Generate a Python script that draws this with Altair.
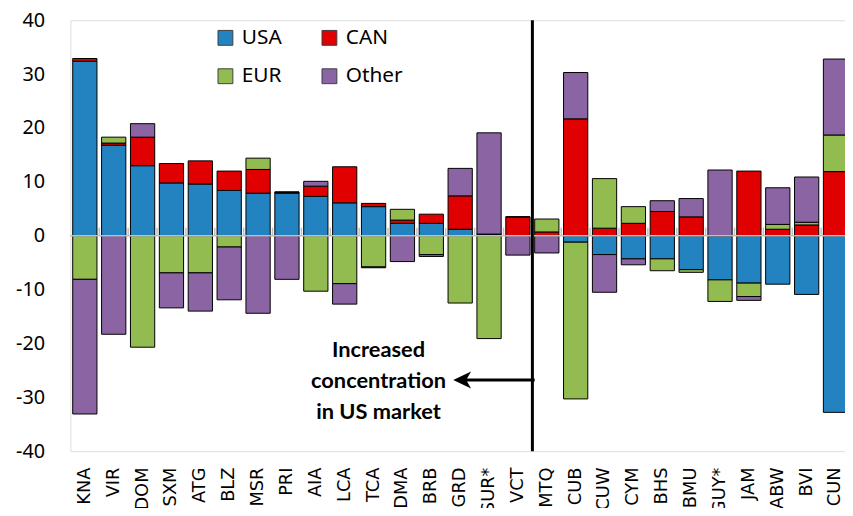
import altair as alt
import pandas as pd

cats = ["KNA", "VIR", "DOM", "SXM", "ATG", "BLZ", "MSR", "PRI", "AIA", "LCA", "TCA",
        "DMA", "BRB", "GRD", "SUR*", "VCT", "MTQ", "CUB", "CUW", "CYM", "BHS", "BMU",
        "GUY*", "JAM", "ABW", "BVI", "CUN"]
usa = [32.4, 16.8, 13.0, 9.8, 9.6, 8.4, 7.9, 7.9, 7.3, 6.1, 5.4,
       2.3, 2.3, 1.2, 0.3, 0.0, 0.0, -1.2, -3.5, -4.3, -4.3, -6.3,
       -8.2, -8.8, -9.0, -10.9, -32.8]
can = [0.5, 0.4, 5.3, 3.6, 4.3, 3.6, 4.4, 0.2, 1.9, 6.7, 0.6,
       0.6, 1.7, 6.2, 0.0, 3.5, 0.7, 21.7, 1.4, 2.3, 4.5, 3.5,
       0.0, 12.0, 1.2, 2.0, 11.9]
eur = [-8.1, 1.1, -20.7, -6.9, -6.9, -2.1, 2.1, 0.0, -10.3, -8.9, -5.8,
       2.0, -3.5, -12.5, -19.1, 0.0, 2.4, -29.1, 9.2, 3.1, -2.2, -0.5,
       -4.0, -2.5, 0.9, 0.5, 6.8]
other = [-25.0, -18.3, 2.5, -6.5, -7.1, -9.8, -14.4, -8.1, 0.9, -3.8, -0.15,
         -4.8, -0.35, 5.1, 18.8, -3.6, -3.2, 8.6, -7.0, -1.1, 2.0, 3.4,
         12.2, -0.7, 6.8, 8.4, 14.1]
series = ["USA", "CAN", "EUR", "Other"]
colors = ["#2382c0", "#e00000", "#92bc50", "#8b64a4"]
annot_lines = ["Increased", "concentration", "in US market"]

rows = []
for k, (name, vals) in enumerate(zip(series, [usa, can, eur, other])):
    for c, v in zip(cats, vals):
        rows.append({"cat": c, "series": name, "value": v, "ord": k})
df = pd.DataFrame(rows)

FONT = "Noto Sans"
xscale = alt.Scale(domain=cats, paddingInner=0.16, paddingOuter=0.08)
yscale = alt.Scale(domain=[-40, 40], nice=False)

bars = alt.Chart(df).mark_bar(stroke="black", strokeWidth=1).encode(
    x=alt.X("cat:N", sort=cats, scale=xscale, title=None,
            axis=alt.Axis(orient="bottom", labelAngle=-90, labelFontSize=18, labelFont="DejaVu Sans",
                          labelColor="black", ticks=False, domain=False, labelPadding=16)),
    y=alt.Y("value:Q", stack="zero", scale=yscale, title=None,
            axis=alt.Axis(values=list(range(-40, 41, 10)), labelFontSize=20, labelFont=FONT,
                          labelColor="black", ticks=False, tickSize=0, domain=False, grid=False,
                          labelPadding=26, labelExpr="replace(datum.label, '\u2212', '-')")),
    color=alt.Color("series:N", scale=alt.Scale(domain=series, range=colors),
                    legend=alt.Legend(title=None, orient="none", legendX=146, legendY=7,
                                      columns=2, direction="horizontal",
                                      symbolType="square", symbolSize=225,
                                      symbolStrokeColor="#404040", symbolStrokeWidth=1,
                                      labelFontSize=21, labelFont=FONT, labelColor="black",
                                      labelOffset=6, columnPadding=37, rowPadding=17)),
    order=alt.Order("ord:Q"),
)

zero_line = alt.Chart(pd.DataFrame({"a": [0]})).mark_rule(color="#bfbfbf", strokeWidth=1.5).encode(
    y=alt.datum(0),
)

zero_ticks = alt.Chart(pd.DataFrame({"cat": cats[1:]})).mark_rule(
    color="#bfbfbf", strokeWidth=1.5, xOffset=-2.3).encode(
    x=alt.X("cat:N", sort=cats, bandPosition=0),
    y=alt.datum(0),
    y2=alt.datum(1.5),
)

divider = alt.Chart(pd.DataFrame({"a": [0]})).mark_rule(color="black", strokeWidth=3, xOffset=-2.3).encode(
    x=alt.X(datum="MTQ", bandPosition=0),
    y=alt.datum(40),
    y2=alt.datum(-40),
)

arrow_line = alt.Chart(pd.DataFrame({"a": [0]})).mark_rule(color="black", strokeWidth=3).encode(
    x=alt.X(datum="MTQ", bandPosition=0),
    x2=alt.X2(datum="GRD"),
    y=alt.datum(-26.8),
)

arrow_head = alt.Chart(pd.DataFrame({"a": [0]})).mark_point(
    shape="M -1 0 L 1 -0.95 L 0.45 0 L 1 0.95 Z", filled=True, color="black", opacity=1,
    size=324, xOffset=2).encode(
    x=alt.X(datum="GRD"),
    y=alt.datum(-26.8),
)

annot = alt.Chart(pd.DataFrame({"a": [0]})).mark_text(
    text=annot_lines, font="Lato", fontWeight="bold", fontSize=22, lineHeight=31,
    align="center", baseline="middle", dx=5, color="black").encode(
    x=alt.X(datum="TCA"),
    y=alt.datum(-21.3),
)

chart = alt.layer(bars, zero_line, zero_ticks, divider, arrow_line, arrow_head, annot).properties(
    width=787, height=435,
    autosize=alt.AutoSizeParams(type="none"),
    padding={"left": 63, "top": 10, "right": -5, "bottom": 55},
).configure_view(stroke="#bfbfbf", strokeWidth=1.5).configure(background="white")

chart.save("out.html", embed_options={"renderer": "svg", "actions": False})
